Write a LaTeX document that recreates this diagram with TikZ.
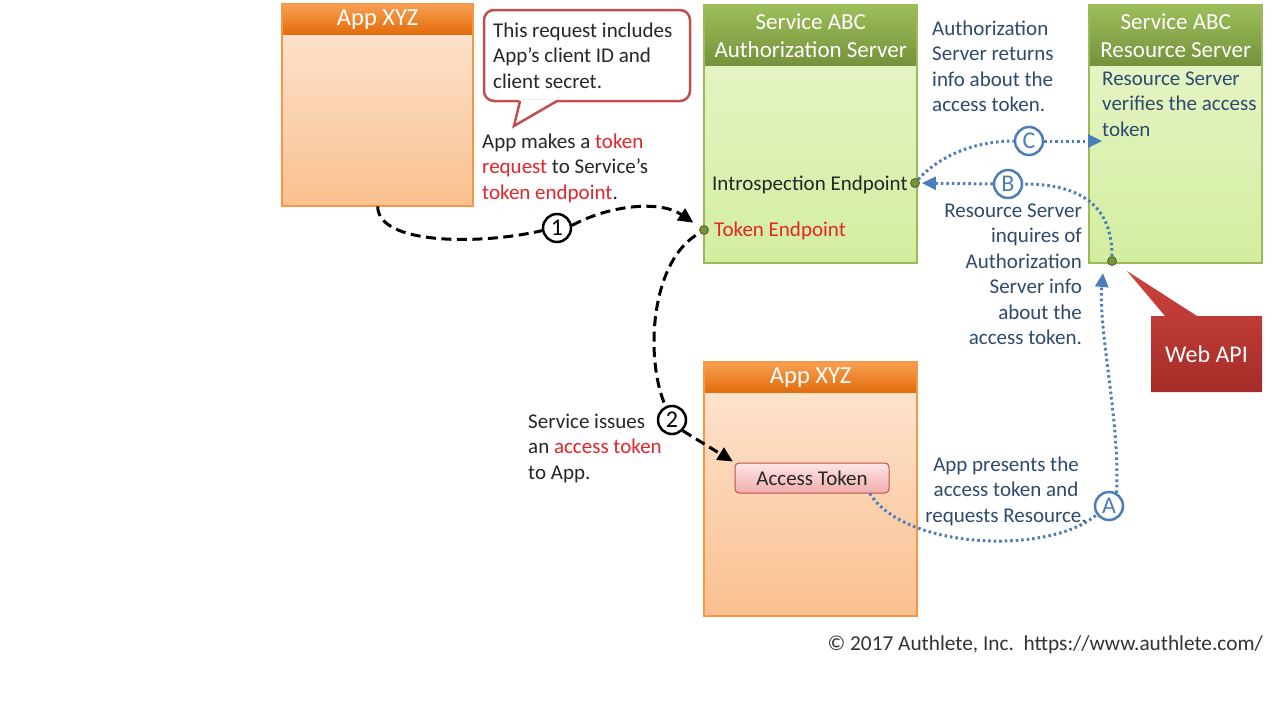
\documentclass[tikz,border=0pt]{standalone}
\usepackage{fontspec}
\setmainfont{Carlito}
\usetikzlibrary{arrows.meta,calc}
\definecolor{orB}{HTML}{F79646}
\definecolor{orHt}{HTML}{F7A053}
\definecolor{orHb}{HTML}{E36C0A}
\definecolor{orT}{HTML}{FDE7D5}
\definecolor{orBt}{HTML}{FAC08F}
\definecolor{grB}{HTML}{9BBB59}
\definecolor{grHt}{HTML}{9CBE5A}
\definecolor{grHb}{HTML}{76923C}
\definecolor{grT}{HTML}{EAF6CE}
\definecolor{grBt}{HTML}{D3ED9F}
\definecolor{rdB}{HTML}{C0504D}
\definecolor{txt}{HTML}{262626}
\definecolor{btxt}{HTML}{2E4A6E}
\definecolor{rtxt}{HTML}{E2252B}
\definecolor{bl}{HTML}{4A7EBB}
\definecolor{dotf}{HTML}{77933C}
\definecolor{dotd}{HTML}{4F6228}
\definecolor{tokT}{HTML}{FDE6E6}
\definecolor{tokB}{HTML}{F1ACAC}
\definecolor{webT}{HTML}{CD433D}
\definecolor{webB}{HTML}{A52C29}
\definecolor{copy}{HTML}{333333}
\newcommand\bodyfs{\fontsize{21}{25.5}\selectfont}
\newcommand\headfs{\fontsize{23}{28}\selectfont}
\newcommand\appfs{\fontsize{24.5}{28}\selectfont}
\newcommand\numfs{\fontsize{24}{28}\selectfont}
\begin{document}
\begin{tikzpicture}[x=1pt,y=-1pt,
  appbody/.style={rectangle, inner sep=0, anchor=north west, top color=orT, bottom color=orBt},
  apphead/.style={rectangle, inner sep=0, anchor=north west, top color=orHt, bottom color=orHb, text=white, font=\appfs, minimum height=30pt},
  framo/.style={draw=orB, line width=2pt},
  srvbody/.style={rectangle, inner sep=0, anchor=north west, top color=grT, bottom color=grBt},
  srvhead/.style={rectangle, inner sep=0, anchor=north west, top color=grHt, bottom color=grHb, text=white, font=\headfs, align=center, minimum height=60pt},
  framg/.style={draw=grB, line width=2pt},
  txtl/.style={inner sep=0, anchor=north west, align=left, font=\bodyfs, text=txt},
  numc/.style={circle, draw=black, fill=white, line width=2.5pt, minimum size=28pt, inner sep=0, font=\numfs},
  letc/.style={numc, draw=bl, text=bl},
  epdot/.style={circle, fill=dotf, draw=dotd, line width=0.8pt, minimum size=9pt, inner sep=0},
  blk/.style={draw=black, line width=3pt, dash pattern=on 10pt off 5.5pt},
  blu/.style={draw=bl, line width=3pt, dash pattern=on 2.5pt off 3pt},
  blkarr/.style={-{Triangle[length=15pt,width=14pt]}},
  bluarr/.style={-{Triangle[length=14pt,width=13pt]}}
]
\fill[white] (0,0) rectangle (1280,720);
\useasboundingbox (0,0) rectangle (1280,720);

% App XYZ (top)
\node[appbody, minimum width=191pt, minimum height=202pt] (app1) at (282,4) {};
\node[apphead, minimum width=191pt] (app1h) at (282,4) {App XYZ};
\draw[framo] (app1.north west) rectangle (app1.south east);

% Callout
\draw[draw=rdB, line width=2.5pt, fill=white, rounded corners=10pt] (484,10) rectangle (690,101);
\fill[white] (519.5,99.6) -- (514,126) -- (558,99.6) -- cycle;
\draw[draw=rdB, line width=2.5pt, line join=miter] (520,101) -- (514,126) -- (557,101);
\node[txtl] (calltxt) at (493,19.15) {\strut This request includes\\App’s client ID and\\client secret.};

\node[txtl] (reqtxt) at (482,130) {\strut App makes a \textcolor{rtxt}{token}\\\textcolor{rtxt}{request} to Service’s\\\textcolor{rtxt}{token endpoint}.};

% Authorization server
\node[srvbody, minimum width=213pt, minimum height=258pt] (auth) at (704,5) {};
\node[srvhead, minimum width=213pt] (authh) at (704,5) {Service ABC\\Authorization Server};
\draw[framg] (auth.north west) rectangle (auth.south east);
\node[inner sep=0, anchor=base west, font=\bodyfs, text=txt] (introtxt) at (712,190) {Introspection Endpoint};
\node[inner sep=0, anchor=base west, font=\bodyfs, text=rtxt] (toktxt) at (714,236) {Token Endpoint};
\node[epdot] (introdot) at (915,183) {};
\node[epdot] (tokendot) at (704,230) {};

% Resource server
\node[srvbody, minimum width=173pt, minimum height=258pt] (res) at (1089,5) {};
\node[srvhead, minimum width=173pt] (resh) at (1089,5) {Service ABC\\Resource Server};
\draw[framg] (res.north west) rectangle (res.south east);
\node[txtl, text=btxt] (restxt) at (1102,67.15) {\strut Resource Server\\verifies the access\\token};
\node[epdot] (resdot) at (1112,261) {};

\node[txtl, text=btxt] (rettxt) at (932,17.15) {\strut Authorization\\Server returns\\info about the\\access token.};
\node[txtl, text=btxt, anchor=north east, align=right] (inqtxt) at (1082,199.15) {\strut Resource Server\\inquires of\\Authorization\\Server info\\about the\\access token.};

% Web API
\shade[top color=webT, bottom color=webB] (1151,316) -- (1165,316) -- (1127,271) -- (1197,316) -- (1262,316) -- (1262,392) -- (1151,392) -- cycle;
\node[inner sep=0, minimum width=111pt, minimum height=76pt, font=\fontsize{24}{28}\selectfont, text=white] (webapi) at (1206.5,354) {Web API};

% App XYZ (bottom)
\node[appbody, minimum width=213pt, minimum height=254pt] (app2) at (704,362) {};
\node[apphead, minimum width=213pt] (app2h) at (704,362) {App XYZ};
\draw[framo] (app2.north west) rectangle (app2.south east);
\node[rectangle, rounded corners=4pt, draw=rdB, line width=1pt, top color=tokT, bottom color=tokB, minimum width=154pt, minimum height=30pt, inner sep=0, font=\bodyfs, text=txt] (token) at (812,478) {Access Token};

\node[txtl] (isstxt) at (528,410.15) {\strut Service issues\\an \textcolor{rtxt}{access token}\\to App.};
\node[txtl, text=btxt, anchor=north, align=center] (prestxt) at (1006,453.15) {\strut App presents the\\access token and\\requests Resource.};

% circles
\node[numc] (c1) at (557,228) {1};
\node[numc] (c2) at (672,420) {2};
\node[letc] (cA) at (1109,506) {A};
\node[letc] (cB) at (1008,184) {B};
\node[letc] (cC) at (1029,141) {C};

% connector 1
\draw[blk] (app1.south) .. controls (378,245) and (480,245) .. (c1.190);
\draw[blk, blkarr, shorten >=8pt] (c1.10) .. controls (610,205) and (660,200) .. (tokendot);
% connector 2
\draw[blk, shorten <=5pt] (tokendot) .. controls (650,265) and (645,360) .. (c2.115);
\draw[blk, blkarr, shorten >=2pt] (c2.-45) -- (token.north west);

% connector A
\coordinate (tipA) at ($(resdot)+(-9,12)$);
\draw[blu] (token.-15) .. controls (905,550) and (1050,555) .. (cA.215);
\draw[blu, bluarr] (cA.60) .. controls (1120,420) and (1098,330) .. (tipA);
% connector B
\draw[blu] (resdot) .. controls (1112,205) and (1080,184) .. (cB.east);
\draw[blu, bluarr, shorten >=2pt] (cB.west) -- (introdot);
% connector C
\coordinate (tipC) at ($(res.west |- cC)+(13,0)$);
\draw[blu] (introdot) .. controls (945,150) and (985,141) .. (cC.west);
\draw[blu, bluarr] (cC.east) -- (tipC);

% copyright
\node[inner sep=0, anchor=base east, font=\fontsize{21.3}{25}\selectfont, text=copy] (copyr) at (1263,650) {© 2017 Authlete, Inc.\ \ https://www.authlete.com/};
\end{tikzpicture}
\end{document}
